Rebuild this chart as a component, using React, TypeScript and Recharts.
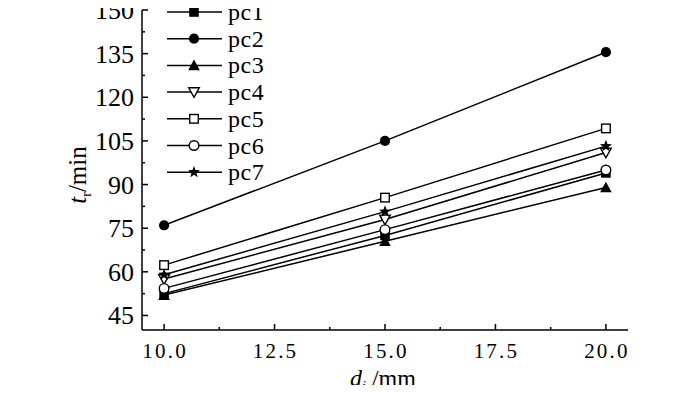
import { LineChart, Line, XAxis, YAxis } from 'recharts'

const diameters = [10, 15, 20]
const pc1 = [52.5, 72.5, 94]
const pc2 = [76, 105, 135.5]
const pc3 = [52, 70.5, 89]
const pc4 = [57.5, 78, 101]
const pc5 = [62.3, 85.5, 109.3]
const pc6 = [54.3, 74.5, 95]
const pc7 = [59, 80.7, 103.2]

const xTicks = [10, 11.25, 12.5, 13.75, 15, 16.25, 17.5, 18.75, 20]
const xLabels = ['10.0', '12.5', '15.0', '17.5', '20.0']
const yTicks = [45, 52.5, 60, 67.5, 75, 82.5, 90, 97.5, 105, 112.5, 120, 127.5, 135, 142.5, 150]

type Shape = 'square' | 'circle' | 'triangle' | 'triangleDown' | 'squareOpen' | 'circleOpen' | 'star'

const series: { key: string; name: string; shape: Shape }[] = [
  { key: 'pc1', name: 'pc1', shape: 'square' },
  { key: 'pc2', name: 'pc2', shape: 'circle' },
  { key: 'pc3', name: 'pc3', shape: 'triangle' },
  { key: 'pc4', name: 'pc4', shape: 'triangleDown' },
  { key: 'pc5', name: 'pc5', shape: 'squareOpen' },
  { key: 'pc6', name: 'pc6', shape: 'circleOpen' },
  { key: 'pc7', name: 'pc7', shape: 'star' },
]

const values: Record<string, number[]> = { pc1, pc2, pc3, pc4, pc5, pc6, pc7 }

const data = diameters.map((d, i) => {
  const row: Record<string, number> = { d }
  series.forEach((s) => (row[s.key] = values[s.key][i]))
  return row
})

const font = '"Liberation Serif", "Times New Roman", serif'

function Marker({ cx, cy, shape }: { cx: number; cy: number; shape: Shape }) {
  const r = 4.8
  switch (shape) {
    case 'square':
      return <rect x={cx - r} y={cy - r} width={2 * r} height={2 * r} fill="#000" />
    case 'squareOpen':
      return <rect x={cx - r + 0.5} y={cy - r + 0.5} width={2 * r - 1} height={2 * r - 1} fill="#fff" stroke="#000" strokeWidth={1.4} />
    case 'circle':
      return <circle cx={cx} cy={cy} r={r + 0.3} fill="#000" />
    case 'circleOpen':
      return <circle cx={cx} cy={cy} r={r} fill="#fff" stroke="#000" strokeWidth={1.4} />
    case 'triangle':
      return <polygon points={`${cx},${cy - r - 1} ${cx + r + 1},${cy + r} ${cx - r - 1},${cy + r}`} fill="#000" />
    case 'triangleDown':
      return (
        <polygon
          points={`${cx - r - 0.5},${cy - r + 0.5} ${cx + r + 0.5},${cy - r + 0.5} ${cx},${cy + r + 0.5}`}
          fill="#fff"
          stroke="#000"
          strokeWidth={1.4}
        />
      )
    case 'star': {
      const pts: string[] = []
      for (let k = 0; k < 10; k++) {
        const rad = k % 2 === 0 ? r + 1.5 : (r + 1.5) * 0.42
        const a = -Math.PI / 2 + (k * Math.PI) / 5
        pts.push(`${cx + rad * Math.cos(a)},${cy + rad * Math.sin(a)}`)
      }
      return <polygon points={pts.join(' ')} fill="#000" />
    }
  }
  return null
}

function XTick(props: any) {
  const { x, y, payload } = props
  const major = Math.abs((payload.value - 10) % 2.5) < 1e-6
  const label = xLabels[Math.round((payload.value - 10) / 2.5)]
  return (
    <g>
      <line x1={x} x2={x} y1={y} y2={y - (major ? 6 : 3)} stroke="#000" strokeWidth={1.5} />
      {major && (
        <text x={x + 1} y={y + 28} textAnchor="middle" fontFamily={font} fontSize={21} letterSpacing={2.2} fill="#000">
          {label}
        </text>
      )}
    </g>
  )
}

function YTick(props: any) {
  const { x, y, payload } = props
  const major = Math.abs(payload.value % 15) < 1e-6
  return (
    <g>
      <line x1={x} x2={x + (major ? 6 : 3)} y1={y} y2={y} stroke="#000" strokeWidth={1.5} />
      {major && (
        <text x={x - 8} y={y + 9} textAnchor="end" fontFamily={font} fontSize={26} fill="#000">
          {payload.value}
        </text>
      )}
    </g>
  )
}

function LegendBox() {
  return (
    <svg width={700} height={393} style={{ position: 'absolute', left: 0, top: 0, pointerEvents: 'none' }}>
      {series.map((s, i) => {
        const y = 12 + i * 26.7
        return (
          <g key={s.key}>
            <line x1={167} x2={222} y1={y} y2={y} stroke="#000" strokeWidth={1.5} />
            <Marker cx={194} cy={y} shape={s.shape} />
            <text x={228} y={y + 8} fontFamily={font} fontSize={24} letterSpacing={0.5} fill="#000">
              {s.name}
            </text>
          </g>
        )
      })}
    </svg>
  )
}

export default function App() {
  return (
    <div style={{ margin: -8, background: '#fff', width: 700, height: 393, position: 'relative' }}>
      <LineChart width={700} height={393} data={data} margin={{ top: 10, right: 72, bottom: 23, left: 82 }}>
        <XAxis
          dataKey="d"
          type="number"
          domain={[9.5, 20.5]}
          ticks={xTicks}
          interval={0}
          tickSize={0}
          tickMargin={0}
          tickLine={false}
          tick={<XTick />}
          height={40}
          stroke="#000"
          strokeWidth={1.5}
          label={{
            position: 'insideBottom',
            content: () => (
              <text x={383} y={386} textAnchor="middle" fontFamily={font} fontSize={24} fill="#000">
                <tspan fontStyle="italic">d</tspan>
                <tspan fontSize={14} dy={5} fontStyle="italic">i</tspan>
                <tspan dy={-5}> /mm</tspan>
              </text>
            ),
          }}
        />
        <YAxis
          type="number"
          domain={[40, 150]}
          ticks={yTicks}
          interval={0}
          tickSize={0}
          tickMargin={0}
          tickLine={false}
          tick={<YTick />}
          width={60}
          stroke="#000"
          strokeWidth={1.5}
          label={{
            position: 'insideLeft',
            content: () => (
              <text
                x={86}
                y={175}
                transform="rotate(-90 86 175)"
                textAnchor="middle"
                fontFamily={font}
                fontSize={25}
                fill="#000"
              >
                <tspan fontStyle="italic">t</tspan>
                <tspan fontSize={14} dy={5}>r</tspan>
                <tspan dy={-5}>/min</tspan>
              </text>
            ),
          }}
        />
        {series.map((s) => (
          <Line
            key={s.key}
            dataKey={s.key}
            name={s.name}
            stroke="#000"
            strokeWidth={1.5}
            isAnimationActive={false}
            dot={(p: any) => <Marker key={`${s.key}-${p.index}`} cx={p.cx} cy={p.cy} shape={s.shape} />}
            activeDot={false}
          />
        ))}
      </LineChart>
      <LegendBox />
    </div>
  )
}
